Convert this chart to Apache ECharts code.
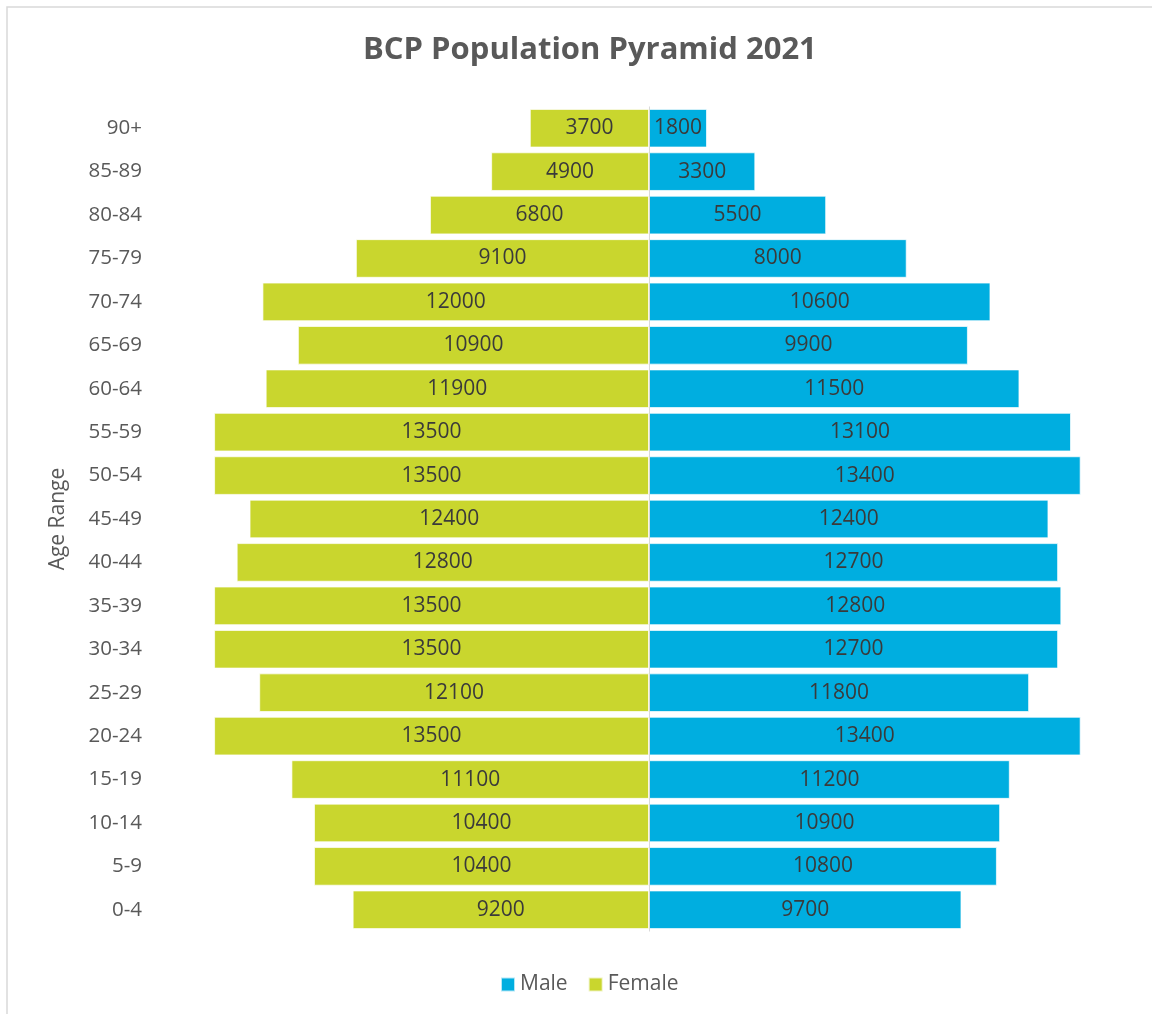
<!DOCTYPE html>
<html>
<head>
<meta charset="utf-8">
<title>BCP Population Pyramid 2021</title>
<script src="https://cdn.jsdelivr.net/npm/echarts@6/dist/echarts.min.js"></script>
<style>
  html, body { margin: 0; padding: 0; background: #fff; }
  #chart { width: 1152px; height: 1014px; }
</style>
</head>
<body>
<div id="chart"></div>
<script>
// Age bands, youngest first (category axis draws bottom to top)
const ageBands = ['0-4', '5-9', '10-14', '15-19', '20-24', '25-29', '30-34', '35-39', '40-44',
  '45-49', '50-54', '55-59', '60-64', '65-69', '70-74', '75-79', '80-84', '85-89', '90+'];

const maleCounts = [9700, 10800, 10900, 11200, 13400, 11800, 12700, 12800, 12700,
  12400, 13400, 13100, 11500, 9900, 10600, 8000, 5500, 3300, 1800];

const femaleCounts = [9200, 10400, 10400, 11100, 13500, 12100, 13500, 13500, 12800,
  12400, 13500, 13500, 11900, 10900, 12000, 9100, 6800, 4900, 3700];

const FONT = '"Open Sans", "Noto Sans", sans-serif';

const chart = echarts.init(document.getElementById('chart'), null, { renderer: 'canvas' });

const barLabel = {
  show: true,
  position: 'inside',
  color: '#3a3a3a',
  fontFamily: FONT,
  fontSize: 21,
  formatter: p => Math.abs(p.value)
};

chart.setOption({
  animation: false,
  backgroundColor: '#ffffff',
  graphic: [{
    type: 'rect',
    shape: { x: 7, y: 7, width: 1200, height: 1100 },
    style: { fill: 'none', stroke: '#d9d9d9', lineWidth: 1.5 },
    silent: true
  }],
  title: {
    text: 'BCP Population Pyramid 2021',
    left: 358,
    top: 30,
    textStyle: { fontFamily: FONT, fontSize: 31, fontWeight: 'bold', color: '#595959' }
  },
  legend: {
    data: ['Male', 'Female'],
    bottom: 14,
    left: 495,
    icon: 'rect',
    itemWidth: 14,
    itemHeight: 14,
    itemGap: 20,
    textStyle: { fontFamily: FONT, fontSize: 21, color: '#595959' }
  },
  grid: { left: 198, width: 902, top: 106.5, height: 825 },
  xAxis: {
    type: 'value',
    min: -14000,
    max: 14000,
    show: false,
    splitLine: { show: false }
  },
  yAxis: {
    type: 'category',
    data: ageBands,
    name: 'Age Range',
    nameLocation: 'middle',
    nameGap: 129,
    nameTextStyle: { fontFamily: FONT, fontSize: 21, color: '#595959' },
    axisLine: { show: false },
    axisTick: { show: false },
    axisLabel: { margin: 56, fontFamily: FONT, fontSize: 20.5, color: '#595959' }
  },
  series: [
    {
      name: 'Male',
      type: 'bar',
      stack: 'pyramid',
      barCategoryGap: '11%',
      data: maleCounts,
      itemStyle: { color: '#00AEE0', borderColor: 'rgba(255,255,255,0.7)', borderWidth: 1 },
      label: barLabel,
      markLine: {
        silent: true,
        symbol: 'none',
        label: { show: false },
        lineStyle: { color: '#d9d9d9', width: 1, type: 'solid' },
        data: [{ xAxis: 0 }]
      }
    },
    {
      name: 'Female',
      type: 'bar',
      stack: 'pyramid',
      barCategoryGap: '11%',
      data: femaleCounts.map(v => -v),
      itemStyle: { color: '#C9D62E', borderColor: 'rgba(255,255,255,0.7)', borderWidth: 1 },
      label: barLabel
    }
  ]
});
</script>
</body>
</html>
